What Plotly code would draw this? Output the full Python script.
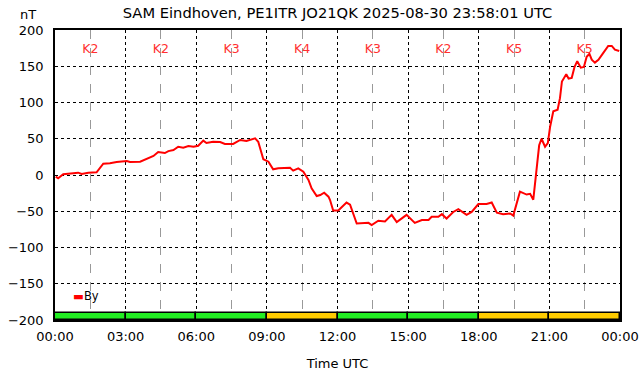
import plotly.graph_objects as go
from datetime import datetime, timedelta

DAY = "2025-08-30"
times = ["00:02","00:08","00:21","00:47","00:59","01:08","01:25","01:46","02:03","02:20","02:37",
         "03:03","03:11","03:37","03:54","04:11","04:23","04:40","04:49","05:02","05:14","05:27",
         "05:40","05:53","06:05","06:18","06:26","06:43","07:01","07:13","07:34","07:52","08:08",
         "08:30","08:38","08:51","09:04","09:16","09:29","09:46","09:59","10:07","10:20","10:33",
         "10:46","10:54","11:07","11:16","11:26","11:37","11:41","11:49","12:02","12:23","12:32",
         "12:49","13:06","13:19","13:27","13:44","14:01","14:18","14:31","14:56","15:17","15:35",
         "15:52","16:00","16:17","16:26","16:38","16:55","17:08","17:29","17:42","17:59","18:20",
         "18:33","18:46","19:02","19:20","19:28","19:45","20:02","20:11","20:19","20:29","20:34",
         "20:40","20:49","20:56","21:02","21:10","21:21","21:27","21:32","21:43","21:49","21:57",
         "22:04","22:11","22:20","22:28","22:35","22:42","22:48","22:56","23:05","23:17","23:30",
         "23:39","23:47","23:58"]
by_values = [-2.3,-4.6,1,2.3,3.2,1.4,3.2,3.7,15.6,16.1,17.9,
             19.3,17.9,18.4,22.5,26.2,31.7,30.3,33,34.5,39,37.7,
             40,39,40.4,47.4,44.1,45.9,45.5,42.8,42.8,48.3,46.9,
             50.6,45.9,21.7,18.4,7.8,9.2,9.2,10,6,9.2,4.6,
             -6.9,-18.4,-29,-27.6,-24.4,-29.9,-34.5,-49,-49,-38,-41,
             -67,-67,-66,-69,-63,-64,-55,-65,-55,-66,-62,
             -62,-57.5,-57.5,-54,-60,-51,-47,-55,-51,-40,-40,
             -38,-52,-54,-53,-56,-23,-27,-26,-34,16,41,
             50,39,44,67,88,90,106,129,139,133,134,
             149,157,148,149,163,167,159,155,159,168,178,
             178,173,171]

k_centers = ["01:30","04:30","07:30","10:30","13:30","16:30","19:30","22:30"]
k_index = [2, 2, 3, 4, 3, 2, 5, 5]
k_labels = ["K%d" % k for k in k_index]

def dt(t):
    return datetime.fromisoformat(f"{DAY} {t}")

x = [dt(t) for t in times]
kx = [dt(t) for t in k_centers]
start = dt("00:00")
end = start + timedelta(days=1)

kcolors = ["#22ee22" if k <= 3 else "#ffcc00" for k in k_index]

fig = go.Figure()
fig.add_trace(go.Bar(
    x=kx, y=[9.5]*len(kx), base=-200, width=3*3600*1000,
    marker=dict(color=kcolors, line=dict(color="black", width=1.5)),
    showlegend=False, hoverinfo="skip"))
fig.add_trace(go.Scatter(
    x=kx, y=[172]*len(kx), mode="text", text=k_labels,
    textfont=dict(color="#ff3030", size=12.5, family="DejaVu Sans"),
    showlegend=False, hoverinfo="skip"))
fig.add_trace(go.Scatter(
    x=x, y=by_values, mode="lines", name="By", showlegend=False,
    line=dict(color="#ff0000", width=2)))

font = dict(family="DejaVu Sans", size=13, color="black")
fig.update_layout(
    width=642, height=376, autosize=False,
    margin=dict(l=55, r=22, t=30, b=56),
    paper_bgcolor="white", plot_bgcolor="white",
    font=font,
    title=dict(text="SAM Eindhoven, PE1ITR JO21QK 2025-08-30 23:58:01 UTC",
               xref="paper", x=0.5, xanchor="center", y=0.967, yanchor="middle",
               font=dict(family="DejaVu Sans", size=14.7, color="black")),
    bargap=0,
    annotations=[
        dict(text="nT", xref="paper", yref="paper", x=-0.03, y=1.0,
             xanchor="right", yanchor="bottom", showarrow=False,
             font=dict(size=13, family="DejaVu Sans"), yshift=6),
        dict(text='<span style="color:#ff0000">▬</span>By', xref="paper", yref="paper",
             x=0.029, y=0.083, xanchor="left", yanchor="middle", showarrow=False,
             font=dict(size=11.5, family="DejaVu Sans", color="black")),
    ],
)
fig.update_xaxes(
    type="date", range=[start, end], tickformat="%H:%M",
    dtick=3*3600*1000, tick0=start, automargin=False,
    showgrid=True, gridcolor="black", griddash="dot", gridwidth=1,
    minor=dict(dtick=1.5*3600*1000, showgrid=True, gridcolor="#999999", griddash="dash", gridwidth=1),
    showline=True, linecolor="black", linewidth=1.5, mirror=True,
    ticks="", zeroline=False, ticklabelstandoff=4,
    title=dict(text="Time UTC", font=dict(size=13, family="DejaVu Sans"), standoff=16),
)
fig.update_yaxes(
    range=[-200, 200], dtick=50, tick0=0, automargin=False,
    showgrid=True, gridcolor="black", griddash="dot", gridwidth=1,
    showline=True, linecolor="black", linewidth=1.5, mirror=True,
    ticks="", zeroline=False, ticklabelstandoff=7,
)
fig.write_html(
    "out.html",
    config={"displayModeBar": False, "responsive": False},
    default_width="642px", default_height="376px",
    post_script="document.body.style.margin='0';document.body.style.overflow='hidden';"
                "document.documentElement.style.overflow='hidden';",
)
